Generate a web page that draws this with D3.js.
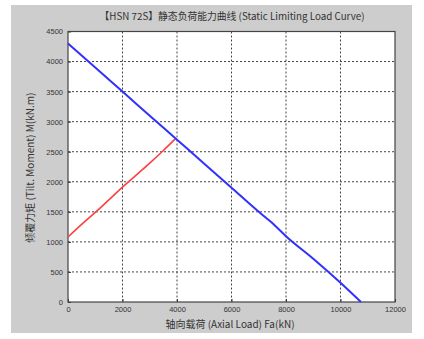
<!DOCTYPE html>
<html><head><meta charset="utf-8">
<script src="https://cdn.jsdelivr.net/npm/d3@7/dist/d3.min.js"></script>
<style>body{margin:0;background:#fff}svg{display:block}</style>
</head><body>
<script>
const xTicks = [0, 2000, 4000, 6000, 8000, 10000, 12000];
const yTicks = [0, 500, 1000, 1500, 2000, 2500, 3000, 3500, 4000, 4500];
const blueAxial  = [0, 1000, 2000, 3000, 4000, 5000, 6000, 7000, 7400, 7600, 8000, 9000, 10000, 10750];
const blueMoment = [4300, 3900, 3500, 3100, 2700, 2300, 1900, 1500, 1350, 1270, 1095, 720, 320, 0];
const redAxial  = [0, 500, 1000, 1500, 2000, 2500, 3000, 3500, 3930];
const redMoment = [1080, 1290, 1490, 1700, 1910, 2110, 2310, 2520, 2710];
const titleText = "【HSN 72S】静态负荷能力曲线 (Static Limiting Load Curve)";
const xLabel = "轴向载荷 (Axial Load) Fa(kN)";
const yLabel = "倾覆力矩 (Tilt. Moment) M(kN.m)";

const W = 424, H = 339;
const svg = d3.select("body").append("svg").attr("width", W).attr("height", H);
svg.append("rect").attr("x", 11).attr("y", 5).attr("width", 401).attr("height", 328).attr("fill", "#cdcdcd");

const L = 68, R = 395, T = 31.5, B = 302;
const x = d3.scaleLinear().domain([0, 12000]).range([L, R]);
const y = d3.scaleLinear().domain([0, 4500]).range([B, T]);

svg.append("rect").attr("x", L).attr("y", T).attr("width", R - L).attr("height", B - T).attr("fill", "#fff");

const font = "Liberation Sans, Arial, sans-serif";
const cjk = "Noto Sans CJK SC, sans-serif";
// grid
const g = svg.append("g");
g.selectAll(".vx").data(xTicks.slice(1, -1)).join("line")
  .attr("x1", d => x(d)).attr("x2", d => x(d)).attr("y1", T).attr("y2", B)
  .attr("stroke", "#444").attr("stroke-width", 1).attr("stroke-dasharray", "2,2");
g.selectAll(".hy").data(yTicks.slice(1, -1)).join("line")
  .attr("x1", L).attr("x2", R).attr("y1", d => y(d)).attr("y2", d => y(d))
  .attr("stroke", "#444").attr("stroke-width", 1).attr("stroke-dasharray", "2,2");

// axes
const xAxis = svg.append("g").attr("transform", `translate(0,${B})`)
  .call(d3.axisBottom(x).tickValues(xTicks).tickFormat(d3.format("d")).tickSizeInner(-3).tickSizeOuter(0).tickPadding(5));
const yAxis = svg.append("g").attr("transform", `translate(${L},0)`)
  .call(d3.axisLeft(y).tickValues(yTicks).tickFormat(d3.format("d")).tickSizeInner(-3).tickSizeOuter(0).tickPadding(5));
[xAxis, yAxis].forEach(a => {
  a.select(".domain").remove();
  a.selectAll("line").attr("stroke", "#333");
  a.selectAll("text").attr("font-family", font).attr("font-size", 7.5).attr("fill", "#333");
});
svg.append("rect").attr("x", L).attr("y", T).attr("width", R - L).attr("height", B - T)
  .attr("fill", "none").attr("stroke", "#444").attr("stroke-width", 1.2);

// lines
const line = d3.line().x(d => x(d[0])).y(d => y(d[1])).curve(d3.curveMonotoneX);
svg.append("path").datum(redAxial.map((v, i) => [v, redMoment[i]]))
  .attr("d", line).attr("fill", "none").attr("stroke", "#ff4040").attr("stroke-width", 1.6);
svg.append("path").datum(blueAxial.map((v, i) => [v, blueMoment[i]]))
  .attr("d", line).attr("fill", "none").attr("stroke", "#3030ff").attr("stroke-width", 2);

// texts
svg.append("text").attr("x", 232).attr("y", 20).attr("text-anchor", "middle")
  .attr("font-family", cjk).attr("font-size", 9.8).attr("fill", "#333").text(titleText);
svg.append("text").attr("x", 230).attr("y", 328).attr("text-anchor", "middle")
  .attr("font-family", cjk).attr("font-size", 10).attr("fill", "#333").text(xLabel);
svg.append("text").attr("transform", `translate(34,${(T + B) / 2 + 1}) rotate(-90)`).attr("text-anchor", "middle")
  .attr("font-family", cjk).attr("font-size", 10).attr("fill", "#333").text(yLabel);
</script>
</body></html>
